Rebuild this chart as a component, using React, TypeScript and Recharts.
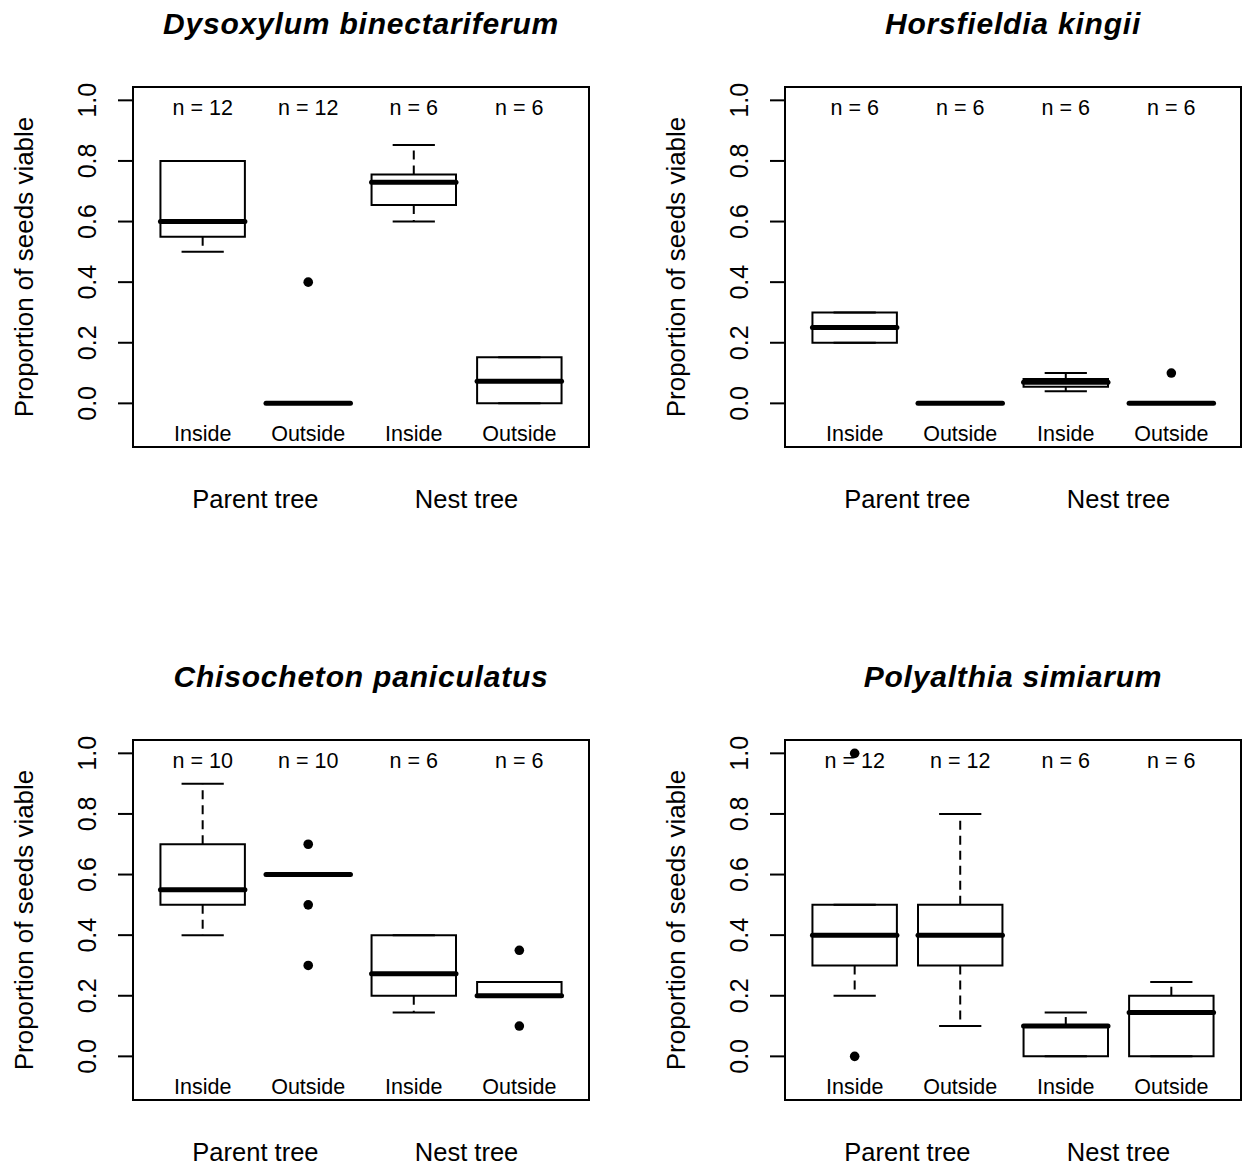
import React from 'react';
import { ComposedChart, XAxis, YAxis, Scatter, ReferenceArea, ReferenceLine } from 'recharts';

// ---------- shared labels ----------
const categories = ['Inside', 'Outside', 'Inside', 'Outside'];
const categoryPositions = [1, 2, 3, 4];
const groupLabels = ['Parent tree', 'Nest tree'];
const groupPositions = [1.5, 3.5];
const yTicks = [0, 0.2, 0.4, 0.6, 0.8, 1.0];
const yAxisTitle = 'Proportion of seeds viable';

// ---------- Dysoxylum binectariferum ----------
const dysoxylumTitle = 'Dysoxylum binectariferum';
const dysoxylumN = [12, 12, 6, 6];
const dysoxylumLower = [0.5, 0, 0.6, 0];
const dysoxylumQ1 = [0.55, 0, 0.655, 0];
const dysoxylumMedian = [0.6, 0, 0.73, 0.073];
const dysoxylumQ3 = [0.8, 0, 0.755, 0.152];
const dysoxylumUpper = [0.8, 0, 0.853, 0.152];
const dysoxylumOutliers = [{ group: 1, value: 0.4 }];

// ---------- Horsfieldia kingii ----------
const horsfieldiaTitle = 'Horsfieldia kingii';
const horsfieldiaN = [6, 6, 6, 6];
const horsfieldiaLower = [0.2, 0, 0.04, 0];
const horsfieldiaQ1 = [0.2, 0, 0.055, 0];
const horsfieldiaMedian = [0.25, 0, 0.07, 0];
const horsfieldiaQ3 = [0.3, 0, 0.08, 0];
const horsfieldiaUpper = [0.3, 0, 0.1, 0];
const horsfieldiaOutliers = [{ group: 3, value: 0.1 }];

// ---------- Chisocheton paniculatus ----------
const chisochetonTitle = 'Chisocheton paniculatus';
const chisochetonN = [10, 10, 6, 6];
const chisochetonLower = [0.4, 0.6, 0.145, 0.2];
const chisochetonQ1 = [0.5, 0.6, 0.2, 0.2];
const chisochetonMedian = [0.55, 0.6, 0.273, 0.2];
const chisochetonQ3 = [0.7, 0.6, 0.4, 0.245];
const chisochetonUpper = [0.9, 0.6, 0.4, 0.245];
const chisochetonOutliers = [
  { group: 1, value: 0.7 },
  { group: 1, value: 0.5 },
  { group: 1, value: 0.3 },
  { group: 3, value: 0.35 },
  { group: 3, value: 0.1 },
];

// ---------- Polyalthia simiarum ----------
const polyalthiaTitle = 'Polyalthia simiarum';
const polyalthiaN = [12, 12, 6, 6];
const polyalthiaLower = [0.2, 0.1, 0, 0];
const polyalthiaQ1 = [0.3, 0.3, 0, 0];
const polyalthiaMedian = [0.4, 0.4, 0.1, 0.145];
const polyalthiaQ3 = [0.5, 0.5, 0.1, 0.2];
const polyalthiaUpper = [0.5, 0.8, 0.145, 0.245];
const polyalthiaOutliers = [
  { group: 0, value: 1.0 },
  { group: 0, value: 0.0 },
];

// ---------- layout / style constants ----------
const FONT = '"Liberation Sans", Arial, Helvetica, sans-serif';
const CHART_W = 592;
const CHART_H = 515;
const X_DOMAIN: [number, number] = [0.34, 4.66];
const Y_DOMAIN: [number, number] = [-0.144, 1.044];
const BOX_HALF = 0.4;
const STAPLE_HALF = 0.2;
const N_LABEL_Y = 0.975;
const CAT_LABEL_Y = -0.1;

const panels = [
  { title: dysoxylumTitle, n: dysoxylumN, lower: dysoxylumLower, q1: dysoxylumQ1, median: dysoxylumMedian, q3: dysoxylumQ3, upper: dysoxylumUpper, outliers: dysoxylumOutliers, left: 0, top: 0 },
  { title: horsfieldiaTitle, n: horsfieldiaN, lower: horsfieldiaLower, q1: horsfieldiaQ1, median: horsfieldiaMedian, q3: horsfieldiaQ3, upper: horsfieldiaUpper, outliers: horsfieldiaOutliers, left: 652, top: 0 },
  { title: chisochetonTitle, n: chisochetonN, lower: chisochetonLower, q1: chisochetonQ1, median: chisochetonMedian, q3: chisochetonQ3, upper: chisochetonUpper, outliers: chisochetonOutliers, left: 0, top: 653 },
  { title: polyalthiaTitle, n: polyalthiaN, lower: polyalthiaLower, q1: polyalthiaQ1, median: polyalthiaMedian, q3: polyalthiaQ3, upper: polyalthiaUpper, outliers: polyalthiaOutliers, left: 652, top: 653 },
];

const YTick = (props: any) => {
  const { x, y, payload } = props;
  return (
    <text
      x={x}
      y={y}
      transform={`rotate(-90, ${x}, ${y})`}
      textAnchor="middle"
      dominantBaseline="central"
      fontFamily={FONT}
      fontSize={25}
      fill="#000"
    >
      {Number(payload.value).toFixed(1)}
    </text>
  );
};

const GroupTick = (props: any) => {
  const { x, y, payload } = props;
  const idx = groupPositions.indexOf(payload.value);
  return (
    <text x={x} y={y} textAnchor="middle" dominantBaseline="central" fontFamily={FONT} fontSize={25.5} fill="#000">
      {idx >= 0 ? groupLabels[idx] : ''}
    </text>
  );
};

const TextShape = (props: any) => {
  const { cx, cy, payload } = props;
  return (
    <text x={cx} y={cy} textAnchor="middle" dominantBaseline="central" fontFamily={FONT} fontSize={21.5} fill="#000">
      {payload.text}
    </text>
  );
};

const DotShape = (props: any) => <circle cx={props.cx} cy={props.cy} r={4.8} fill="#000" />;

function BoxPanel(p: any) {
  const nData = categoryPositions.map((x, i) => ({ x, y: N_LABEL_Y, text: `n = ${p.n[i]}` }));
  const catData = categoryPositions.map((x, i) => ({ x, y: CAT_LABEL_Y, text: categories[i] }));
  const outData = p.outliers.map((o: any) => ({ x: categoryPositions[o.group], y: o.value }));

  const elements: any[] = [];
  categoryPositions.forEach((x, i) => {
    const lo = p.lower[i];
    const a = p.q1[i];
    const m = p.median[i];
    const b = p.q3[i];
    const hi = p.upper[i];
    if (hi > b) {
      elements.push(
        <ReferenceLine key={`wu${i}`} segment={[{ x, y: b }, { x, y: hi }]} stroke="#000" strokeWidth={2} strokeDasharray="9 6" ifOverflow="visible" />
      );
    }
    if (a > lo) {
      elements.push(
        <ReferenceLine key={`wl${i}`} segment={[{ x, y: a }, { x, y: lo }]} stroke="#000" strokeWidth={2} strokeDasharray="9 6" ifOverflow="visible" />
      );
    }
    elements.push(
      <ReferenceLine key={`su${i}`} segment={[{ x: x - STAPLE_HALF, y: hi }, { x: x + STAPLE_HALF, y: hi }]} stroke="#000" strokeWidth={2} ifOverflow="visible" />
    );
    elements.push(
      <ReferenceLine key={`sl${i}`} segment={[{ x: x - STAPLE_HALF, y: lo }, { x: x + STAPLE_HALF, y: lo }]} stroke="#000" strokeWidth={2} ifOverflow="visible" />
    );
    if (b > a) {
      elements.push(
        <ReferenceArea key={`box${i}`} x1={x - BOX_HALF} x2={x + BOX_HALF} y1={a} y2={b} fill="none" fillOpacity={0} stroke="#000" strokeWidth={2} ifOverflow="visible" />
      );
    }
    elements.push(
      <ReferenceLine key={`med${i}`} segment={[{ x: x - BOX_HALF, y: m }, { x: x + BOX_HALF, y: m }]} stroke="#000" strokeWidth={5} strokeLinecap="round" ifOverflow="visible" />
    );
  });

  return (
    <div style={{ position: 'absolute', left: p.left, top: p.top, width: CHART_W, height: CHART_H }}>
      <ComposedChart width={CHART_W} height={CHART_H} margin={{ top: 87, right: 3, bottom: 0, left: 0 }}>
        <XAxis
          type="number"
          dataKey="x"
          domain={X_DOMAIN}
          allowDataOverflow
          ticks={groupPositions}
          interval={0}
          axisLine={false}
          tickLine={false}
          tickSize={0}
          tickMargin={52}
          height={68}
          tick={GroupTick}
        />
        <YAxis
          type="number"
          dataKey="y"
          domain={Y_DOMAIN}
          allowDataOverflow
          ticks={yTicks}
          interval={0}
          width={133}
          axisLine={false}
          tickLine={{ stroke: '#000', strokeWidth: 2 }}
          tickSize={15}
          tickMargin={30.5}
          tick={YTick}
          label={{
            content: (lp: any) => {
              const vb = lp.viewBox || { x: 0, y: 87, width: 133, height: 360 };
              const tx = vb.x + 24;
              const ty = vb.y + vb.height / 2;
              return (
                <text x={tx} y={ty} transform={`rotate(-90, ${tx}, ${ty})`} textAnchor="middle" dominantBaseline="central" fontFamily={FONT} fontSize={26} fill="#000">
                  {yAxisTitle}
                </text>
              );
            },
          }}
        />
        <ReferenceArea x1={X_DOMAIN[0]} x2={X_DOMAIN[1]} y1={Y_DOMAIN[0]} y2={Y_DOMAIN[1]} fill="none" fillOpacity={0} stroke="#000" strokeWidth={2} ifOverflow="visible" />
        {elements}
        <Scatter data={nData} shape={TextShape} isAnimationActive={false} />
        <Scatter data={catData} shape={TextShape} isAnimationActive={false} />
        <Scatter data={outData} shape={DotShape} isAnimationActive={false} />
      </ComposedChart>
      <div
        style={{
          position: 'absolute',
          left: 133,
          top: 0,
          width: 456,
          height: 48,
          lineHeight: '48px',
          textAlign: 'center',
          fontFamily: FONT,
          fontSize: 30,
          letterSpacing: '0.8px',
          fontWeight: 'bold',
          fontStyle: 'italic',
          color: '#000',
          whiteSpace: 'nowrap',
        }}
      >
        {p.title}
      </div>
    </div>
  );
}

export default function App() {
  return (
    <div style={{ position: 'absolute', left: 0, top: 0, width: 1244, height: 1168, background: '#fff', overflow: 'hidden' }}>
      {panels.map((p, i) => (
        <BoxPanel key={i} {...p} />
      ))}
    </div>
  );
}
